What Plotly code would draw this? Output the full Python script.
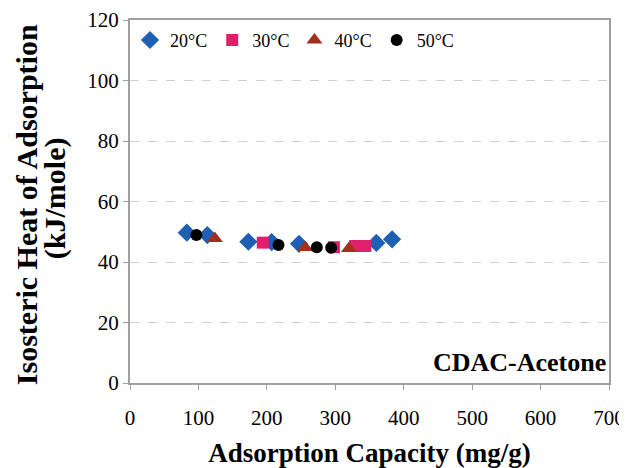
import plotly.graph_objects as go

# Data
x20 = [83, 113, 173, 207, 247, 360, 383]
y20 = [49.7, 48.9, 46.7, 46.6, 46.0, 46.3, 47.5]
x30 = [194, 298, 329, 344]
y30 = [46.4, 44.9, 45.3, 45.3]
x40 = [124, 256, 320]
y40 = [47.8, 44.8, 44.5]
x50 = [97, 217, 273, 294]
y50 = [48.9, 45.6, 44.9, 44.7]

series = [
    ("20\u00b0C", x20, y20, "diamond", "#1f5fb4", 14),
    ("30\u00b0C", x30, y30, "square", "#e0206a", 12),
    ("40\u00b0C", x40, y40, "triangle-up", "#a3301c", 14),
    ("50\u00b0C", x50, y50, "circle", "#000000", 12),
]

font = "Liberation Serif"
fig = go.Figure()
for name, xs, ys, sym, col, sz in series:
    fig.add_trace(go.Scatter(x=xs, y=ys, mode="markers", name=name,
                             marker=dict(symbol=sym, color=col, size=sz, line=dict(width=0))))

fig.add_annotation(text="<b>CDAC-Acetone</b>", xref="paper", yref="paper", x=0.997, y=0.012,
                   xanchor="right", yanchor="bottom", showarrow=False,
                   font=dict(family=font, size=26, color="black"))

# y-axis title as two rotated lines
fig.add_annotation(text="<b>Isosteric Heat of Adsorption</b>", xref="paper", yref="paper",
                   x=-0.217, y=0.49, xanchor="center", yanchor="middle", textangle=-90,
                   showarrow=False, font=dict(family=font, size=30, color="black"))
fig.add_annotation(text="<b>(kJ/mole)</b>", xref="paper", yref="paper",
                   x=-0.156, y=0.51, xanchor="center", yanchor="middle", textangle=-90,
                   showarrow=False, font=dict(family=font, size=30, color="black"))

fig.update_layout(
    width=627, height=468,
    margin=dict(l=122, r=26, t=12, b=93),
    paper_bgcolor="white", plot_bgcolor="white",
    font=dict(family=font, size=20, color="black"),
    showlegend=True,
    legend=dict(orientation="h", x=0.0, y=0.995, xanchor="left", yanchor="top",
                font=dict(family=font, size=18), bgcolor="rgba(0,0,0,0)",
                itemwidth=30, tracegroupgap=0),
    xaxis=dict(range=[0, 700], dtick=100, showgrid=False, zeroline=False, automargin=False,
               showline=True, linecolor="#a0a0a0", linewidth=2, mirror=True,
               ticks="outside", ticklen=5, tickcolor="#a0a0a0", ticklabelstandoff=10,
               tickfont=dict(family=font, size=21),
               title=dict(text="<b>Adsorption Capacity (mg/g)</b>", font=dict(family=font, size=27), standoff=14)),
    yaxis=dict(range=[0, 120], dtick=20, showgrid=True, gridcolor="#d0d0d0", griddash="dash",
               zeroline=False, automargin=False, showline=True, linecolor="#a0a0a0", linewidth=2, mirror=True,
               ticks="outside", ticklen=5, tickcolor="#a0a0a0",
               tickfont=dict(family=font, size=21)),
)

fig.write_html("out.html")
